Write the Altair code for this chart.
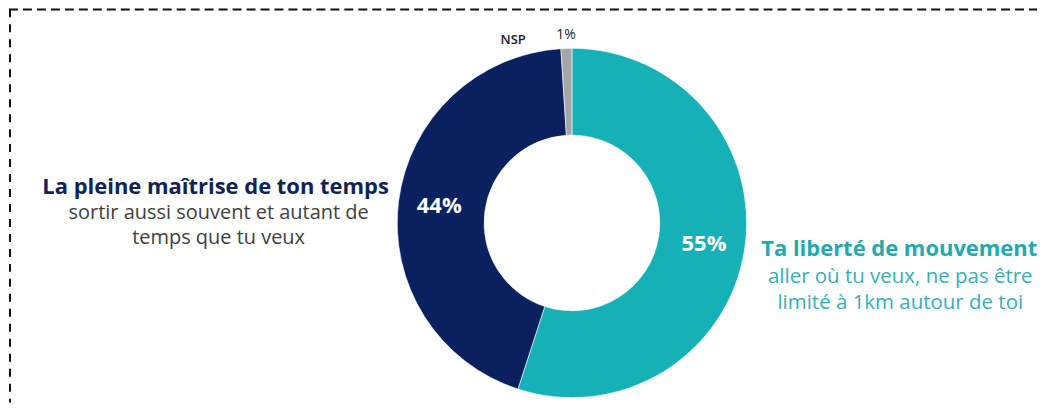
import altair as alt
import pandas as pd

# ---- data ----
categories = ["Ta liberté de mouvement", "La pleine maîtrise de ton temps", "NSP"]
values = [55, 44, 1]
pct_labels = ["55%", "44%", "1%"]
slice_order = [1, 2, 3]
colors = ["#15B1B7", "#0A215F", "#A6A6A6"]

left_title = "La pleine maîtrise de ton temps"
left_sub = ["sortir aussi souvent et autant de", "temps que tu veux"]
right_title = "Ta liberté de mouvement"
right_sub = ["aller où tu veux, ne pas être", "limité à 1km autour de toi"]

df = pd.DataFrame({"cat": categories, "value": values, "label": pct_labels, "order": slice_order})

W, H = 1030, 395
CX, CY = 564, 215
FONT = "Open Sans"

base = alt.Chart(df).encode(
    theta=alt.Theta("value:Q", stack=True),
    order=alt.Order("order:Q"),
    color=alt.Color("cat:N", scale=alt.Scale(domain=categories, range=colors), legend=None),
)

arc = base.mark_arc(outerRadius=175, innerRadius=88, stroke="white", strokeWidth=0.6).encode(
    x=alt.value(CX), y=alt.value(CY)
)

inner = base.mark_text(radius=134, font=FONT, fontSize=22, fontWeight="bold", baseline="middle",
                       align="center").encode(
    x=alt.value(CX), y=alt.value(CY),
    text=alt.Text("inner:N"),
    color=alt.value("white"),
).transform_calculate(inner="datum.value > 5 ? datum.label : ''")

outer = base.mark_text(radius=188, font=FONT, fontSize=14, baseline="middle", align="center").encode(
    x=alt.value(CX), y=alt.value(CY),
    text=alt.Text("outer:N"),
    color=alt.value("#222222"),
).transform_calculate(outer="datum.value <= 5 ? datum.label : ''")

outer_name = base.mark_text(radius=188, dx=-53, dy=5, font=FONT, fontSize=13, fontWeight=600,
                            baseline="middle", align="center").encode(
    x=alt.value(CX), y=alt.value(CY),
    text=alt.Text("nm:N"),
    color=alt.value("#1a1a2a"),
).transform_calculate(nm="datum.value <= 5 ? datum.cat : ''")

one = pd.DataFrame({"k": [0]})

lt = alt.Chart(one).mark_text(font=FONT, fontSize=22, fontWeight="bold", align="center",
                              baseline="alphabetic", color="#0E2356").encode(
    x=alt.value(207), y=alt.value(186), text=alt.value(left_title))
ls = alt.Chart(one).mark_text(font=FONT, fontSize=20, align="center", baseline="alphabetic",
                              lineHeight=25, color="#404040").encode(
    x=alt.value(210), y=alt.value(211), text=alt.value(left_sub))
rt = alt.Chart(one).mark_text(font=FONT, fontSize=22, fontWeight="bold", align="center",
                              baseline="alphabetic", color="#22A9AF").encode(
    x=alt.value(892), y=alt.value(248), text=alt.value(right_title))
rs = alt.Chart(one).mark_text(font=FONT, fontSize=20.5, align="center", baseline="alphabetic",
                              lineHeight=26, color="#38AFB4").encode(
    x=alt.value(893), y=alt.value(275), text=alt.value(right_sub))

top_rule = alt.Chart(one).mark_rule(stroke="#111111", strokeWidth=2, strokeDash=[9, 5]).encode(
    x=alt.value(0), x2=alt.value(W), y=alt.value(1))
left_rule = alt.Chart(one).mark_rule(stroke="#111111", strokeWidth=2, strokeDash=[8, 7]).encode(
    x=alt.value(1), y=alt.value(1), y2=alt.value(H))

chart = alt.layer(top_rule, left_rule, arc, inner, outer, outer_name, lt, ls, rt, rs).properties(
    width=W, height=H, padding=0
).configure_view(stroke=None)

chart.save("out.html", embed_options={"renderer": "svg", "actions": False})
